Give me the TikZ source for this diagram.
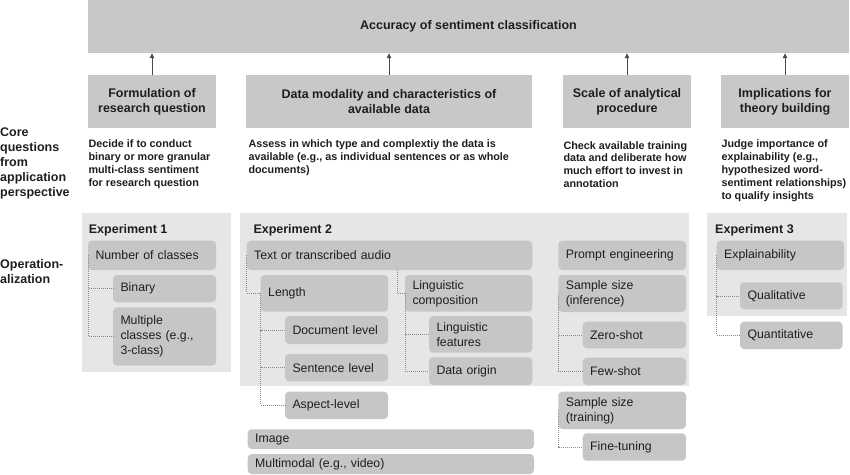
\documentclass[tikz,border=0pt]{standalone}
\usepackage{fontspec}
\setmainfont{Liberation Sans}
\usetikzlibrary{arrows.meta}
\definecolor{hdrgray}{HTML}{C8C8C8}
\definecolor{boxgray}{HTML}{C6C6C6}
\definecolor{panelgray}{HTML}{E6E6E6}
\definecolor{txt}{HTML}{1E1E1E}
\definecolor{linegray}{HTML}{8A8A8A}
\definecolor{arrgray}{HTML}{4A4A4A}
\newcommand\cornerbox[7]{%
  \pgfmathsetmacro\cbW{#5-#3}\pgfmathsetmacro\cbH{#6-#4}%
  \node[#1, minimum width=\cbW pt, minimum height=\cbH pt] (#2) at ({(#3+#5)/2},{(#4+#6)/2}) {#7};}
\newcommand\itembox[6]{%
  \pgfmathsetmacro\cbT{#4-#2-15}\pgfmathsetmacro\cbH{#5-#3}%
  \node[ibox, text width=\cbT pt, minimum height=\cbH pt] (#1) at ({(#2+#4)/2},{(#3+#5)/2}) {#6};}
\tikzset{
  hdr/.style={fill=hdrgray, inner sep=0pt, align=center, text=txt,
    font=\bfseries\fontsize{12.5}{15}\selectfont},
  panel/.style={fill=panelgray, inner sep=0pt},
  ibox/.style={fill=boxgray, rounded corners=4pt, inner xsep=7.5pt, inner ysep=0pt,
    align=left, text=txt, font=\fontsize{12.3}{15}\selectfont},
  desc/.style={anchor=west, inner sep=0pt, align=left, text=txt,
    font=\bfseries\fontsize{10.8}{12.9}\selectfont},
  side/.style={anchor=west, inner sep=0pt, align=left, text=txt,
    font=\bfseries\fontsize{12.5}{15}\selectfont},
  ptitle/.style={anchor=west, inner sep=0pt, text=txt,
    font=\bfseries\fontsize{12.5}{15}\selectfont},
  conn/.style={draw=linegray, line width=0.6pt, dash pattern=on 1pt off 1pt},
  arr/.style={draw=arrgray, line width=0.9pt, -{Triangle[length=5pt,width=4.5pt]}},
}
\begin{document}
\begin{tikzpicture}[x=1pt,y=-1pt]
\useasboundingbox (0,0) rectangle (850,474);
% top box and headers
\cornerbox{hdr}{top}{88}{0}{849}{53}{Accuracy of sentiment classification}
\cornerbox{hdr}{h1}{88}{75}{216}{128}{Formulation of\\research question}
\cornerbox{hdr}{h2}{246}{75}{532}{128}{Data modality and characteristics of\\available data}
\cornerbox{hdr}{h3}{563}{75}{691}{128}{Scale of analytical\\procedure}
\cornerbox{hdr}{h4}{721}{75}{849}{128}{Implications for\\theory building}
\foreach \h in {h1,h2,h3,h4}{\draw[arr] (\h.north) -- (\h.north |- top.south);}
% side labels
\node[side] (core) at (0,163.5) {Core\\questions\\from\\application\\perspective};
\node[side] (oper) at (0,272) {Operation-\\alization};
% descriptions
\node[desc] (d1) at (88.3,164.5) {Decide if to conduct\\binary or more granular\\multi-class sentiment\\for research question};
\node[desc] (d2) at (248.3,158) {Assess in which type and complextiy the data is\\available (e.g., as individual sentences or as whole\\documents)};
\node[desc] (d3) at (563.3,164.5) {Check available training\\data and deliberate how\\much effort to invest in\\annotation};
\node[desc] (d4) at (721.3,171) {Judge importance of\\explainability (e.g.,\\hypothesized word-\\sentiment relationships)\\to qualify insights};
% panels
\cornerbox{panel}{p1}{81.7}{213.3}{231}{371.7}{}
\cornerbox{panel}{p2}{240}{213.3}{689.3}{386}{}
\cornerbox{panel}{p3}{707.3}{213.3}{847.3}{316}{}
\node[ptitle] (e1) at (88.7,230) {Experiment 1};
\node[ptitle] (e2) at (253.3,230) {Experiment 2};
\node[ptitle] (e3) at (715,230) {Experiment 3};
% Experiment 1
\itembox{ncls}{88}{240.7}{216}{270}{Number of classes}
\itembox{binary}{113}{275}{216}{302.3}{Binary}
\itembox{multi}{113}{307.3}{216}{365.7}{Multiple\\classes (e.g.,\\3-class)}
% Experiment 2
\itembox{txtaud}{246.7}{240.7}{532.3}{270}{Text or transcribed audio}
\itembox{length}{260.7}{275}{388}{311.7}{Length}
\itembox{lingc}{405}{275}{532.3}{311.7}{Linguistic\\composition}
\itembox{doc}{285}{316}{388}{344}{Document level}
\itembox{sent}{285}{354}{388}{381.3}{Sentence level}
\itembox{aspect}{285}{391.7}{388}{419}{Aspect-level}
\itembox{lingf}{429}{316}{532.3}{352.7}{Linguistic\\features}
\itembox{origin}{429}{357.3}{532.3}{385}{Data origin}
\itembox{image}{247.7}{429.3}{534}{449}{Image}
\itembox{multimod}{247.7}{454}{534}{474}{Multimodal (e.g., video)}
\itembox{prompt}{558.3}{240.7}{686}{270}{Prompt engineering}
\itembox{ssinf}{558.3}{275}{686}{312}{Sample size\\(inference)}
\itembox{zero}{582.7}{321.7}{686}{348.3}{Zero-shot}
\itembox{few}{582.7}{357.7}{686}{385}{Few-shot}
\itembox{sstrain}{558.3}{391.7}{686}{429}{Sample size\\(training)}
\itembox{fine}{582.7}{433.3}{686}{460.7}{Fine-tuning}
% Experiment 3
\itembox{expl}{716.7}{240.7}{844}{270}{Explainability}
\itembox{qual}{740}{282.3}{842.7}{309.3}{Qualitative}
\itembox{quant}{740}{321.7}{842.7}{349}{Quantitative}
% connectors
\draw[conn] (ncls.west) |- (binary.west);
\draw[conn] (ncls.west) |- (multi.west);
\draw[conn] (txtaud.west) |- (length.west);
\draw[conn] ([xshift=-7.7pt]lingc.west |- txtaud.south) |- (lingc.west);
\draw[conn] (length.west) |- (doc.west);
\draw[conn] (length.west) |- (sent.west);
\draw[conn] (length.west) |- (aspect.west);
\draw[conn] (lingc.west) |- (lingf.west);
\draw[conn] (lingc.west) |- (origin.west);
\draw[conn] (ssinf.west) |- (zero.west);
\draw[conn] (ssinf.west) |- (few.west);
\draw[conn] (sstrain.west) |- (fine.west);
\draw[conn] (expl.west) |- (qual.west);
\draw[conn] (expl.west) |- (quant.west);
\end{tikzpicture}
\end{document}
